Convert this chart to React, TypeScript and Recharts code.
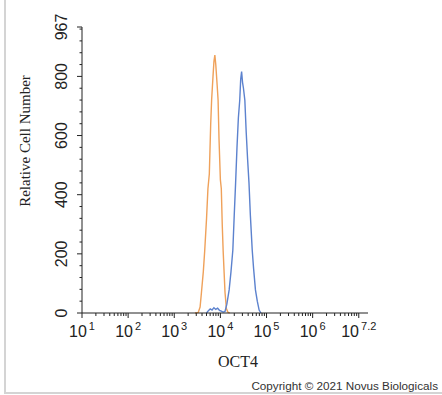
import { LineChart, Line, XAxis, YAxis } from "recharts";

// log10 of fluorescence intensity and cell counts
const isotypeLog = [3.45, 3.52, 3.56, 3.59, 3.63, 3.66, 3.7, 3.73, 3.76, 3.79, 3.81, 3.84, 3.86, 3.88, 3.9, 3.93, 3.95, 3.97, 4.0, 4.02, 4.04, 4.06, 4.08, 4.1, 4.13, 4.16, 4.2];
const isotypeCount = [0, 2, 20, 70, 140, 210, 320, 420, 470, 640, 720, 800, 850, 872, 840, 770, 720, 590, 450, 420, 300, 210, 140, 70, 15, 3, 0];

const oct4Log = [3.7, 3.74, 3.78, 3.82, 3.86, 3.9, 3.94, 3.98, 4.02, 4.06, 4.1, 4.14, 4.19, 4.23, 4.27, 4.3, 4.33, 4.36, 4.39, 4.42, 4.44, 4.46, 4.48, 4.5, 4.53, 4.56, 4.59, 4.62, 4.65, 4.69, 4.72, 4.76, 4.8, 4.84, 4.88];
const oct4Count = [0, 8, 14, 10, 18, 12, 16, 9, 6, 3, 5, 30, 78, 140, 213, 330, 440, 560, 660, 720, 790, 816, 780, 760, 720, 610, 520, 440, 330, 213, 150, 78, 40, 10, 0];

const xMajor = [1, 2, 3, 4, 5, 6, 7];
const xExponents = ["1", "2", "3", "4", "5", "6", "7.2"];
const yMajor = [0, 200, 400, 600, 800, 967];

const isotype = isotypeLog.map((x, i) => ({ x, y: isotypeCount[i] }));
const oct4 = oct4Log.map((x, i) => ({ x, y: oct4Count[i] }));

// minor ticks: 2..9 x 10^n on the x axis, every 40 on the y axis
const xMinor: number[] = [];
for (let n = 1; n < 7; n++) {
  for (let k = 2; k <= 9; k++) xMinor.push(n + Math.log10(k));
}
const yMinor: number[] = [];
for (let v = 40; v < 967; v += 40) if (v % 200 !== 0) yMinor.push(v);

const xTicks = [...xMajor, ...xMinor].sort((a, b) => a - b);
const yTicks = [...yMajor, ...yMinor].sort((a, b) => a - b);

const ink = "#222";

const XTick = (props: any) => {
  const { x, y, payload } = props;
  const idx = xMajor.indexOf(payload.value);
  const major = idx >= 0;
  return (
    <g>
      <line x1={x} y1={y} x2={x} y2={y + (major ? 5 : 3)} stroke={ink} />
      {major && (
        <text x={x} y={y + 24} textAnchor="middle" fill={ink} fontSize={16} fontFamily="Liberation Sans, Arial, sans-serif">
          <tspan>10</tspan>
          <tspan dx={2} dy={-7} fontSize={11}>{xExponents[idx]}</tspan>
        </text>
      )}
    </g>
  );
};

const YTick = (props: any) => {
  const { x, y, payload } = props;
  const major = yMajor.includes(payload.value);
  return (
    <g>
      <line x1={x} y1={y} x2={x - (major ? 5 : 2.5)} y2={y} stroke={ink} />
      {major && (
        <text x={x - 15} y={y} transform={`rotate(-90, ${x - 15}, ${y})`} textAnchor="middle" fill={ink} fontSize={16} fontFamily="Liberation Sans, Arial, sans-serif">
          {payload.value}
        </text>
      )}
    </g>
  );
};

export default function App() {
  return (
    <div style={{ position: "absolute", left: 0, top: 0, width: 442, height: 395, background: "#fff" }}>
      <div style={{ position: "absolute", left: 4, top: 0, width: 436, height: 392, borderLeft: "2px solid #d4d4d4", borderBottom: "2px solid #d4d4d4" }} />
      <LineChart width={442} height={395} margin={{ top: 27, right: 74, left: 22, bottom: 22 }}>
        <XAxis
          type="number"
          dataKey="x"
          domain={[1, 7.2]}
          ticks={xTicks}
          interval={0}
          tickSize={0}
          tickMargin={0}
          tick={<XTick />}
          height={60}
          stroke={ink}
          allowDataOverflow
          label={{
            content: ({ viewBox }: any) => (
              <text x={viewBox.x + viewBox.width / 2 + 13} y={viewBox.y + 54} textAnchor="middle" fill={ink} fontSize={16} fontFamily="Liberation Serif, Times New Roman, serif">
                OCT4
              </text>
            ),
          }}
        />
        <YAxis
          type="number"
          dataKey="y"
          domain={[0, 967]}
          ticks={yTicks}
          interval={0}
          tickSize={0}
          tickMargin={0}
          tick={<YTick />}
          width={60}
          stroke={ink}
          label={{
            content: ({ viewBox }: any) => (
              <text x={viewBox.x + 8} y={141} transform={`rotate(-90, ${viewBox.x + 8}, 141)`} textAnchor="middle" fill={ink} fontSize={15} fontFamily="Liberation Serif, Times New Roman, serif">
                Relative Cell Number
              </text>
            ),
          }}
        />
        <Line data={isotype} dataKey="y" type="linear" stroke="#EFA15A" strokeWidth={1.4} dot={false} isAnimationActive={false} />
        <Line data={oct4} dataKey="y" type="linear" stroke="#5C82CE" strokeWidth={1.4} dot={false} isAnimationActive={false} />
      </LineChart>
      <div style={{ position: "absolute", right: 4, top: 380, fontSize: 11.7, lineHeight: "12px", color: "#333", fontFamily: "Liberation Sans, Arial, sans-serif", whiteSpace: "nowrap" }}>
        Copyright © 2021 Novus Biologicals
      </div>
    </div>
  );
}
